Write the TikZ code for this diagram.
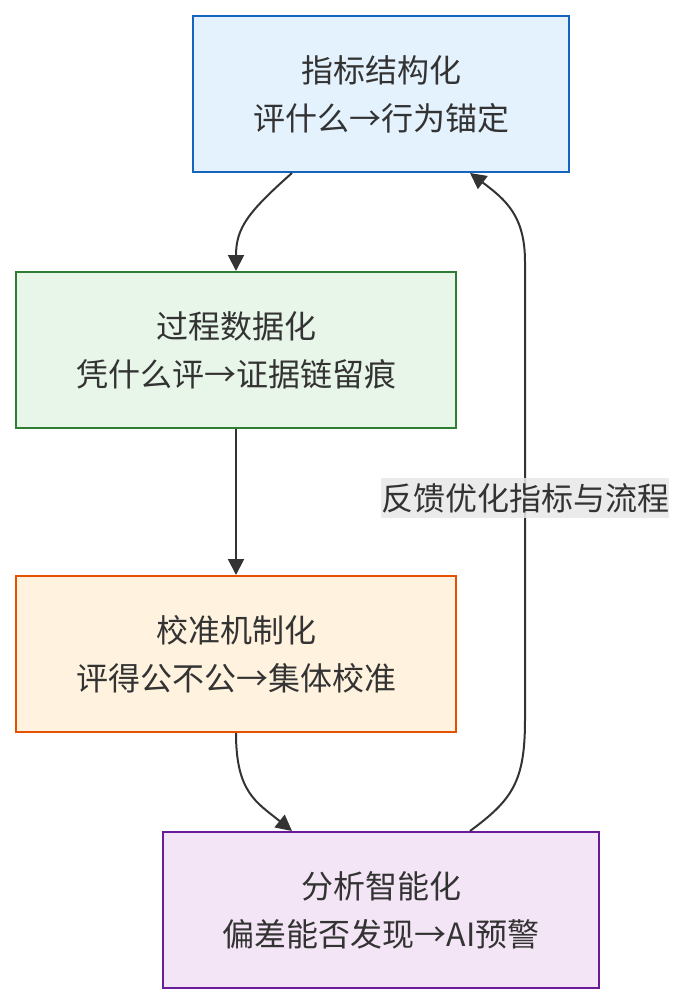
\documentclass[tikz,border=0pt]{standalone}
\usepackage{fontspec}
\setmainfont{Noto Sans CJK SC}
\usetikzlibrary{arrows.meta}
\definecolor{txt}{HTML}{333333}
\definecolor{f1}{HTML}{E3F2FD}\definecolor{d1}{HTML}{1565C0}
\definecolor{f2}{HTML}{E8F5E9}\definecolor{d2}{HTML}{2E7D32}
\definecolor{f3}{HTML}{FFF3E0}\definecolor{d3}{HTML}{E65100}
\definecolor{f4}{HTML}{F3E5F5}\definecolor{d4}{HTML}{6A1B9A}
\definecolor{lblbg}{HTML}{E8E8E8}
\tikzset{
  boxnode/.style={draw, line width=2pt, minimum height=156pt, inner sep=0pt,
    align=center, text=txt, font=\fontsize{32}{48}\selectfont},
  conn/.style={draw=txt, line width=2pt, -{Triangle[length=16pt,width=16pt]}},
  lblnode/.style={fill=lblbg, fill opacity=0.85, text opacity=1, text=txt,
    inner sep=0pt, minimum height=40pt, font=\fontsize{32}{38}\selectfont}
}
\begin{document}
\begin{tikzpicture}[x=1pt,y=-1pt]
\useasboundingbox (0,0) rectangle (686,1004);
\node[boxnode, fill=f1, draw=d1, minimum width=376pt] (b1) at (381,94) {指标结构化\\评什么→行为锚定};
\node[boxnode, fill=f2, draw=d2, minimum width=440pt] (b2) at (236,350) {过程数据化\\凭什么评→证据链留痕};
\node[boxnode, fill=f3, draw=d3, minimum width=440pt] (b3) at (236,654) {校准机制化\\评得公不公→集体校准};
\node[boxnode, fill=f4, draw=d4, minimum width=436pt] (b4) at (381,910) {分析智能化\\偏差能否发现→AI预警};
\draw[conn] ([xshift=-89pt]b1.south) .. controls (248,212) and (236,228) .. (b2.north);
\draw[conn] (b2.south) -- (b3.north);
\draw[conn] (b3.south) .. controls (236,792) and (256,802) .. ([xshift=-89pt]b4.north);
\draw[conn] ([xshift=89pt]b4.north) .. controls (512,800) and (525,782) .. (525,720)
  -- (525,262) .. controls (525,216) and (506,200) .. ([xshift=89pt]b1.south);
\node[lblnode] (lbl) at (525,498) {反馈优化指标与流程};
\end{tikzpicture}
\end{document}
